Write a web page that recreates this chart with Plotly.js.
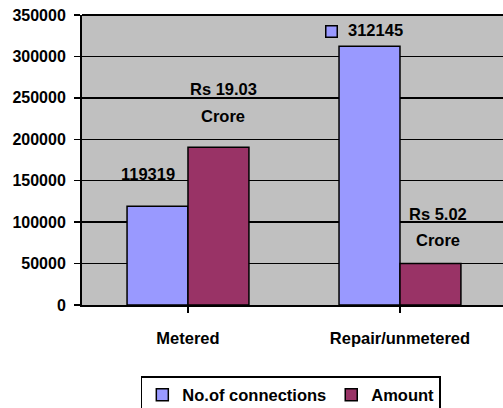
<!DOCTYPE html>
<html><head><meta charset="utf-8">
<script src="https://cdn.plot.ly/plotly-3.0.1.min.js"></script>
<style>html,body{margin:0;padding:0;background:#fff}#chart{width:503px;height:408px}</style>
</head><body><div id="chart"></div>
<script>
const categories = ["Metered", "Repair/unmetered"];
const seriesNames = ["No.of connections", "Amount"];
const connections = [119319, 312145];
const amount = [190300, 50200];
const connectionLabels = ["119319", "312145"];
const amountLabels = ["Rs 19.03<br>Crore", "Rs 5.02<br>Crore"];
const yTicks = [0, 50000, 100000, 150000, 200000, 250000, 300000, 350000];

const blue = "#9999FF", maroon = "#993366";
const FONT = {family: "Liberation Sans, Arial, sans-serif", size: 16.5, color: "#000"};
const TICKFONT = {family: "Liberation Sans, Arial, sans-serif", size: 16, color: "#000"};
const b = s => "<b>" + s + "</b>";
const bargap = 0.425;
const half = (1 - bargap) / 4;

const traces = [
  {type: "bar", name: b(seriesNames[0]), x: [0, 1], y: connections,
   marker: {color: blue, line: {color: "#000", width: 1.5}}, hoverinfo: "none"},
  {type: "bar", name: b(seriesNames[1]), x: [0, 1], y: amount,
   marker: {color: maroon, line: {color: "#000", width: 1.5}}, hoverinfo: "none"}
];

const ann = [];
const cShift = [{dx: -10, dy: 21}, {dx: 6, dy: 5}];
connections.forEach((v, i) => {
  ann.push({x: i - half, y: v, xref: "x", yref: "y", text: b(connectionLabels[i]), showarrow: false,
    xanchor: "center", yanchor: "bottom", xshift: cShift[i].dx, yshift: cShift[i].dy, font: FONT});
});
ann.push({x: 1 - half, y: connections[1], xref: "x", yref: "y", text: "", showarrow: false,
  width: 10, height: 10, bgcolor: blue, bordercolor: "#000", borderwidth: 1.5, borderpad: 0,
  xanchor: "center", yanchor: "middle", xshift: -38, yshift: 15});
const aShift = [{dx: 5, dy: 20, gap: 27}, {dx: 8, dy: 12, gap: 26}];
amount.forEach((v, i) => {
  const lines = amountLabels[i].split("<br>");
  lines.forEach((t, j) => {
    ann.push({x: i + half, y: v, xref: "x", yref: "y", text: b(t), showarrow: false,
      xanchor: "center", yanchor: "bottom", xshift: aShift[i].dx,
      yshift: aShift[i].dy + (lines.length - 1 - j) * aShift[i].gap, font: FONT});
  });
});

const layout = {
  width: 503, height: 408,
  margin: {l: 82, r: 0, t: 15, b: 103, pad: 0, autoexpand: false},
  paper_bgcolor: "#fff", plot_bgcolor: "#C0C0C0",
  font: FONT,
  showlegend: true,
  barmode: "group", bargap: bargap, bargroupgap: 0,
  xaxis: {
    type: "linear", range: [-0.5, 1.486], tickvals: [0, 1], ticktext: categories.map(b),
    showline: true, linecolor: "#000", linewidth: 2, showgrid: false, zeroline: false,
    ticks: "outside", tickson: "boundaries", ticklen: 6, tickwidth: 1.5, tickcolor: "#000",
    ticklabelstandoff: 11, tickfont: FONT, fixedrange: true, automargin: false
  },
  yaxis: {
    range: [0, 350000], tickvals: yTicks, ticktext: yTicks.map(v => b(String(v))),
    showline: true, linecolor: "#000", linewidth: 2, showgrid: true, gridcolor: "#000", gridwidth: 1.5,
    zeroline: false, ticks: "outside", ticklen: 6, tickwidth: 1.5, tickcolor: "#000",
    ticklabelstandoff: 5, tickfont: TICKFONT, fixedrange: true, automargin: false
  },
  legend: {
    orientation: "h", x: 0.496, xanchor: "center", y: -0.245, yanchor: "top",
    bgcolor: "#fff", bordercolor: "#000", borderwidth: 1.5, font: FONT,
    itemwidth: 30, traceorder: "normal"
  },
  annotations: ann,
  shapes: [{type: "line", xref: "paper", yref: "paper", x0: 0, x1: 1, y0: 1, y1: 1,
    line: {color: "#000", width: 2}}]
};

Plotly.newPlot("chart", traces, layout, {staticPlot: true, displayModeBar: false});
</script></body></html>
